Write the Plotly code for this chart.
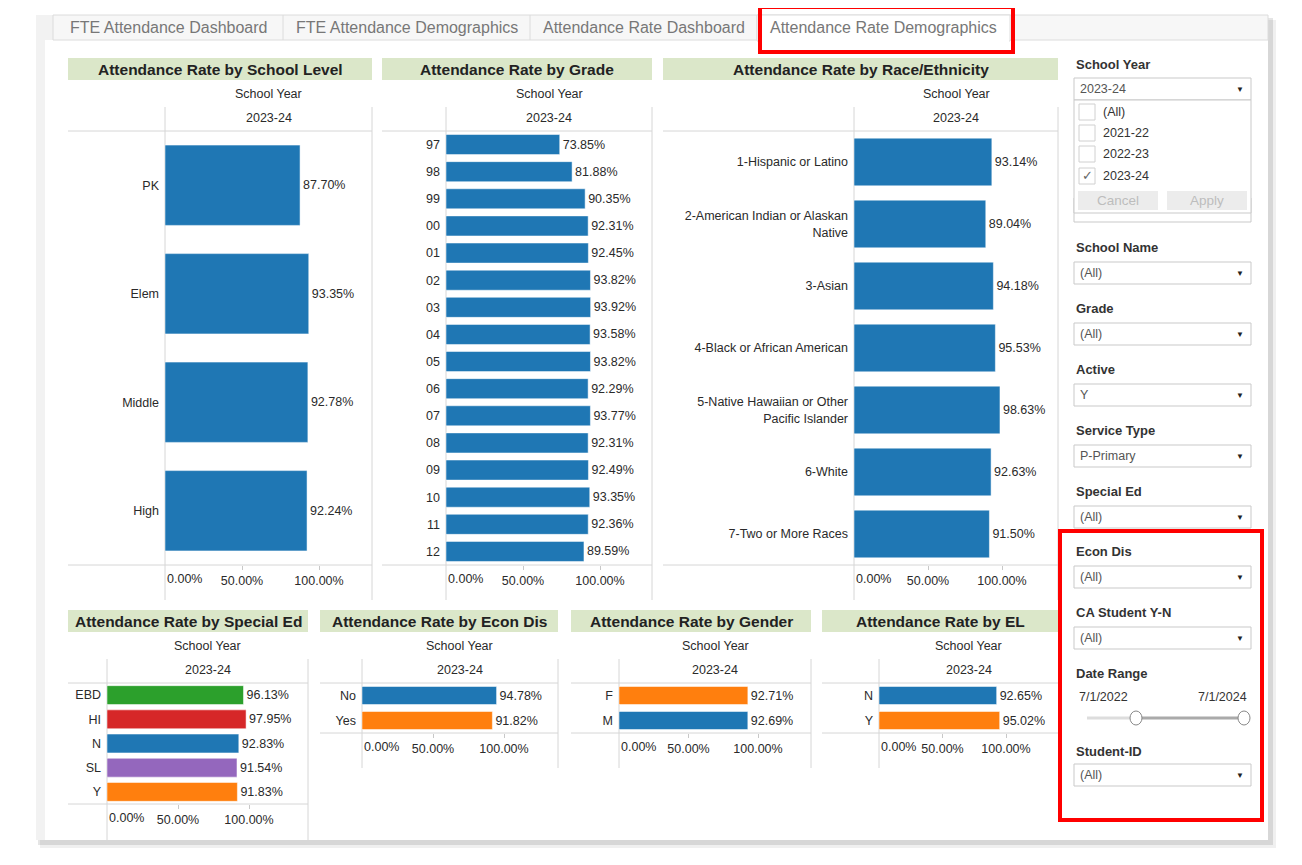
import plotly.graph_objects as go

W, H = 1302, 865
OFF = 8                      # page body margin in the browser
FW, FH = W - 2 * OFF, H - 2 * OFF
FONT = "Liberation Sans, Arial, sans-serif"
TXT = "#2a2a2a"
BLUE, ORANGE, GREEN, RED, PURPLE = "#1f77b4", "#ff7f0e", "#2ca02c", "#d62728", "#9467bd"
LS = 12.5  # label size

# ---------------- data ----------------
school_year = "2023-24"
level_cats = ["PK", "Elem", "Middle", "High"]
level_vals = [87.70, 93.35, 92.78, 92.24]

grade_cats = ["97", "98", "99", "00", "01", "02", "03", "04", "05", "06", "07", "08", "09", "10", "11", "12"]
grade_vals = [73.85, 81.88, 90.35, 92.31, 92.45, 93.82, 93.92, 93.58, 93.82, 92.29, 93.77, 92.31, 92.49, 93.35, 92.36, 89.59]

race_cats = ["1-Hispanic or Latino", "2-American Indian or Alaskan<br>Native", "3-Asian",
             "4-Black or African American", "5-Native Hawaiian or Other<br>Pacific Islander",
             "6-White", "7-Two or More Races"]
race_vals = [93.14, 89.04, 94.18, 95.53, 98.63, 92.63, 91.50]

sped_cats = ["EBD", "HI", "N", "SL", "Y"]
sped_vals = [96.13, 97.95, 92.83, 91.54, 91.83]

econ_cats = ["No", "Yes"]
econ_vals = [94.78, 91.82]

gender_cats = ["F", "M"]
gender_vals = [92.71, 92.69]

el_cats = ["N", "Y"]
el_vals = [92.65, 95.02]

tick_vals = [0, 50, 100]
tick_labels = ["0.00%", "50.00%", "100.00%"]

tabs = ["FTE Attendance Dashboard", "FTE Attendance Demographics", "Attendance Rate Dashboard", "Attendance Rate Demographics"]
year_options = ["(All)", "2021-22", "2022-23", "2023-24"]
filters = [("School Name", "(All)"), ("Grade", "(All)"), ("Active", "Y"), ("Service Type", "P-Primary"),
           ("Special Ed", "(All)"), ("Econ Dis", "(All)"), ("CA Student Y-N", "(All)")]
date_start, date_end = "7/1/2022", "7/1/2024"


def X(x):
    return (x - OFF) / FW


def Y(y):
    return 1 - (y - OFF) / FH


shapes, annos = [], []


def rect(x0, y0, x1, y1, fill=None, line=None, lw=1, layer="below"):
    shapes.append(dict(type="rect", xref="paper", yref="paper", x0=X(x0), x1=X(x1), y0=Y(y1), y1=Y(y0),
                       fillcolor=fill if fill else "rgba(0,0,0,0)",
                       line=dict(color=line if line else "rgba(0,0,0,0)", width=lw if line else 0), layer=layer))


def hline(x0, x1, y, color="#d6d6d6", w=1, layer="below"):
    shapes.append(dict(type="line", xref="paper", yref="paper", x0=X(x0), x1=X(x1), y0=Y(y), y1=Y(y),
                       line=dict(color=color, width=w), layer=layer))


def vline(x, y0, y1, color="#d6d6d6", w=1, layer="below"):
    shapes.append(dict(type="line", xref="paper", yref="paper", x0=X(x), x1=X(x), y0=Y(y0), y1=Y(y1),
                       line=dict(color=color, width=w), layer=layer))


def text(x, y, s, size=LS, color=TXT, bold=False, anchor="center"):
    annos.append(dict(xref="paper", yref="paper", x=X(x), y=Y(y), text=("<b>%s</b>" % s) if bold else s,
                      showarrow=False, xanchor=anchor, yanchor="middle",
                      font=dict(size=size, color=color, family=FONT)))


# ---------------- frame ----------------
rect(40, 20, 1276, 848, fill="rgba(0,0,0,0.06)")
rect(38, 18, 1273, 845, fill="rgba(0,0,0,0.10)")
rect(36, 15, 1268, 840, fill="#f2f2f2")
rect(45, 40, 1268, 840, fill="#ffffff")
# tabs
rect(53, 15, 1268, 40, fill="#f7f7f7", line="#dcdcdc")
tab_x = [53, 283, 530, 757, 1010]
for i, t in enumerate(tabs):
    if i == 3:
        rect(tab_x[i], 15, tab_x[i + 1], 41, fill="#ffffff", line="#dcdcdc")
        rect(tab_x[i] + 1, 38, tab_x[i + 1] - 1, 42, fill="#ffffff")
    else:
        vline(tab_x[i + 1], 15, 40, color="#dcdcdc")
    text((tab_x[i] + tab_x[i + 1]) / 2, 28, t, size=16, color="#777777")
# red highlight boxes
rect(760, 7, 1013, 52, line="#ff0000", lw=4, layer="above")
rect(1060, 531, 1262, 820, line="#ff0000", lw=4, layer="above")

# ---------------- charts ----------------
charts = [
    dict(title="Attendance Rate by School Level", cats=level_cats, vals=level_vals, colors=[BLUE] * 4,
         px0=68, x0=165, x100=319, xr=372, yt=131, yb=565, vb=600, gap=0.26),
    dict(title="Attendance Rate by Grade", cats=grade_cats, vals=grade_vals, colors=[BLUE] * 16,
         px0=382, x0=446, x100=600, xr=652, yt=131, yb=565, vb=600, gap=0.26),
    dict(title="Attendance Rate by Race/Ethnicity", cats=race_cats, vals=race_vals, colors=[BLUE] * 7,
         px0=663, x0=854, x100=1002, xr=1058, yt=131, yb=565, vb=600, gap=0.23),
    dict(title="Attendance Rate by Special Ed", cats=sped_cats, vals=sped_vals,
         colors=[GREEN, RED, BLUE, PURPLE, ORANGE],
         px0=68, x0=107, x100=249, xr=308, yt=683, yb=804, vb=840, gap=0.22),
    dict(title="Attendance Rate by Econ Dis", cats=econ_cats, vals=econ_vals, colors=[BLUE, ORANGE],
         px0=320, x0=362, x100=504, xr=558, yt=683, yb=733, vb=768, gap=0.28),
    dict(title="Attendance Rate by Gender", cats=gender_cats, vals=gender_vals, colors=[ORANGE, BLUE],
         px0=571, x0=619, x100=758, xr=811, yt=683, yb=733, vb=768, gap=0.28),
    dict(title="Attendance Rate by EL", cats=el_cats, vals=el_vals, colors=[BLUE, ORANGE],
         px0=822, x0=879, x100=1006, xr=1059, yt=683, yb=733, vb=768, gap=0.28),
]

fig = go.Figure()
layout_axes = {}
for i, c in enumerate(charts):
    n = i + 1
    xa = "x" if n == 1 else "x%d" % n
    ya = "y" if n == 1 else "y%d" % n
    top = c["yt"]
    head_top = top - 73
    # header band
    rect(c["px0"], head_top, c["xr"], head_top + 22, fill="#dbe7c9")
    text((c["px0"] + c["xr"]) / 2, head_top + 11.5, c["title"], size=15.5, color="#222222", bold=True)
    mid = (c["x0"] + c["xr"]) / 2
    text(mid, top - 37, "School Year", size=LS)
    text(mid, top - 13, school_year, size=LS)
    # grid / panel lines
    hline(c["px0"], c["xr"], top)
    hline(c["px0"], c["xr"], c["yb"])
    vline(c["x0"], top - 24, c["vb"])
    vline(c["xr"], top - 24, c["vb"])

    fig.add_trace(go.Bar(
        x=c["vals"], y=c["cats"], orientation="h", xaxis=xa, yaxis=ya, width=1 - c["gap"],
        marker=dict(color=c["colors"], line=dict(color="rgba(255,255,255,0.5)", width=1)),
        text=["%.2f%%" % v for v in c["vals"]], textposition="outside", constraintext="none",
        textfont=dict(size=LS, color=TXT, family=FONT), cliponaxis=False, showlegend=False,
        hoverinfo="skip"))
    xmax = 100.0 * (c["xr"] - c["x0"]) / (c["x100"] - c["x0"])
    layout_axes["xaxis" if n == 1 else "xaxis%d" % n] = dict(
        domain=[X(c["x0"]), X(c["xr"])], range=[0, xmax], anchor=ya,
        tickvals=tick_vals[1:], ticktext=tick_labels[1:], ticks="outside", ticklen=4, tickcolor="#c8c8c8",
        tickfont=dict(size=LS, color=TXT, family=FONT), showgrid=False, zeroline=False, showline=False,
        fixedrange=True)
    layout_axes["yaxis" if n == 1 else "yaxis%d" % n] = dict(
        domain=[Y(c["yb"]), Y(top)], type="category", categoryorder="array", categoryarray=c["cats"],
        autorange="reversed", anchor=xa, showgrid=False, zeroline=False, showline=False, ticks="",
        ticklabelstandoff=5,
        tickfont=dict(size=LS, color=TXT, family=FONT), fixedrange=True)
    # first tick label is left-aligned at the zero position (Tableau style)
    annos.append(dict(xref=xa, yref="paper", x=tick_vals[0], y=Y(c["yb"] + 14), text=tick_labels[0],
                      showarrow=False, xanchor="left", yanchor="middle",
                      font=dict(size=LS, color=TXT, family=FONT)))

# ---------------- sidebar ----------------
SX0, SX1 = 1074, 1251


def dropdown(y0, value):
    rect(SX0, y0, SX1, y0 + 22, fill="#ffffff", line="#c9c9c9")
    text(SX0 + 4, y0 + 11, value, size=12.5, color="#555555", anchor="left")
    text(SX1 - 11, y0 + 11, "▼", size=8, color="#222222")


text(SX0, 64, "School Year", size=13, color="#333333", bold=True, anchor="left")
# box hidden behind the open list
rect(SX0, 198, SX1, 222, fill="#ffffff", line="#c9c9c9")
dropdown(78, school_year)
rect(SX0, 100, SX1, 213, fill="#ffffff", line="#c9c9c9")
for k, (opt, yy) in enumerate(zip(year_options, [112, 133, 154, 176])):
    rect(1079, yy - 8, 1095, yy + 8, fill="#ffffff", line="#d0d0d0")
    text(1101, yy, opt, size=12.5, color="#333333", anchor="left")
    if opt == school_year:
        text(1087, yy, "✓", size=13, color="#666666")
rect(1078, 191, 1158, 210, fill="#ececec")
rect(1167, 191, 1247, 210, fill="#ececec")
text(1118, 200.5, "Cancel", size=13.5, color="#bdbdbd")
text(1207, 200.5, "Apply", size=13.5, color="#bdbdbd")

label_y = [247, 308, 369, 430, 491, 551, 612]
for (lab, val), ly in zip(filters, label_y):
    text(SX0, ly, lab, size=13, color="#333333", bold=True, anchor="left")
    dropdown(ly + 15, val)

text(SX0, 673, "Date Range", size=13, color="#333333", bold=True, anchor="left")
text(1077, 697, date_start, size=12.5, color="#333333", anchor="left")
text(1249, 697, date_end, size=12.5, color="#333333", anchor="right")
hline(1087, 1137, 718, color="#dddddd", w=3, layer="above")
hline(1137, 1244, 718, color="#aaaaaa", w=3, layer="above")
for hx in [1136, 1244]:
    shapes.append(dict(type="circle", xref="paper", yref="paper", x0=X(hx - 6), x1=X(hx + 6),
                       y0=Y(725), y1=Y(711), fillcolor="#ffffff", line=dict(color="#888888", width=1),
                       layer="above"))
text(SX0, 751, "Student-ID", size=13, color="#333333", bold=True, anchor="left")
dropdown(764, "(All)")

fig.update_layout(
    width=FW, height=FH, margin=dict(l=0, r=0, t=0, b=0),
    paper_bgcolor="#ffffff", plot_bgcolor="rgba(0,0,0,0)",
    shapes=shapes, annotations=annos, showlegend=False,
    font=dict(family=FONT, color=TXT),
    **layout_axes
)

fig.write_html("out.html", include_plotlyjs=True, config={"displayModeBar": False})
